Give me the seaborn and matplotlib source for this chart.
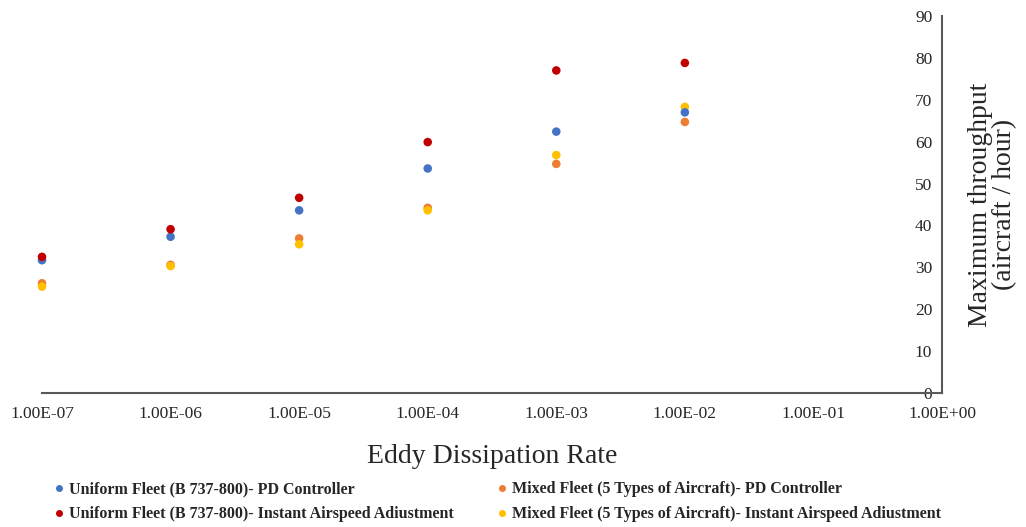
import numpy as np
import pandas as pd
import matplotlib
matplotlib.use("Agg")
import matplotlib.pyplot as plt
from matplotlib.ticker import FixedLocator, FuncFormatter
import seaborn as sns

# data
eddy_rate = [1e-7, 1e-6, 1e-5, 1e-4, 1e-3, 1e-2]
uniform_pd = [31.7, 37.3, 43.6, 53.6, 62.4, 67.0]
mixed_pd = [26.2, 30.6, 36.9, 44.2, 54.7, 64.7]
uniform_instant = [32.5, 39.1, 46.6, 59.9, 77.0, 78.8]
mixed_instant = [25.4, 30.3, 35.5, 43.6, 56.8, 68.3]

series_names = [
    "Uniform Fleet (B 737-800)- PD Controller",
    "Mixed Fleet (5 Types of Aircraft)- PD Controller",
    "Uniform Fleet (B 737-800)- Instant Airspeed Adiustment",
    "Mixed Fleet (5 Types of Aircraft)- Instant Airspeed Adiustment",
]
series_colors = ["#4472C4", "#ED7D31", "#C00000", "#FFC000"]
x_ticks = [1e-7, 1e-6, 1e-5, 1e-4, 1e-3, 1e-2, 1e-1, 1e0]

frames = []
for name, vals in zip(series_names, [uniform_pd, mixed_pd, uniform_instant, mixed_instant]):
    frames.append(pd.DataFrame({"rate": eddy_rate, "throughput": vals, "series": name}))
df = pd.concat(frames, ignore_index=True)

sns.set_style("white")
plt.rcParams["font.family"] = ["Liberation Serif", "DejaVu Serif"]

fig = plt.figure(figsize=(10.26, 5.27), dpi=100)
ax = fig.add_axes([42 / 1026, 1 - 393 / 527, 900 / 1026, 377 / 527])

# draw order: mixed first, then uniform on top
order = [1, 3, 0, 2]
for i in order:
    sub = df[df["series"] == series_names[i]]
    sns.scatterplot(data=sub, x="rate", y="throughput", color=series_colors[i],
                    s=38, edgecolor="none", ax=ax, legend=False, clip_on=False)

ax.set_xscale("log")
ax.set_xlim(1e-7, 1e0)
ax.set_ylim(0, 90)
ax.xaxis.set_major_locator(FixedLocator(x_ticks))
ax.xaxis.set_minor_locator(FixedLocator([]))
ax.xaxis.set_major_formatter(FuncFormatter(lambda v, p: f"{v:.2E}"))
ax.set_yticks(np.arange(0, 91, 10))

# y axis sits at the right edge, labels on its left
ax.spines["left"].set_position(("axes", 1.0))
ax.spines["right"].set_visible(False)
ax.spines["top"].set_visible(False)
for sp in ["left", "bottom"]:
    ax.spines[sp].set_color("#595959")
    ax.spines[sp].set_linewidth(1.5)
ax.tick_params(axis="x", length=0, pad=9, labelsize=12.5)
ax.tick_params(axis="y", direction="out", length=4, color="#595959", pad=3, labelsize=12.5)

ax.set_xlabel("Eddy Dissipation Rate", fontsize=20, labelpad=16)
ax.set_ylabel("Maximum throughput\n(aircraft / hour)", fontsize=20, linespacing=0.95)
ax.yaxis.set_label_coords(1.083, 0.5)

# legend in two columns below the axes
handles = []
for i in [0, 2, 1, 3]:
    handles.append(plt.Line2D([], [], marker="o", linestyle="none", markersize=4,
                              color=series_colors[i], label=series_names[i]))
fig.legend(handles=handles, loc="lower left", bbox_to_anchor=(0.036, -0.018), ncol=2,
           frameon=False, prop={"weight": "bold", "size": 11.5}, handletextpad=0.1,
           columnspacing=2.55, labelspacing=0.55, handlelength=1.0)

fig.savefig("out.png", dpi=100)
